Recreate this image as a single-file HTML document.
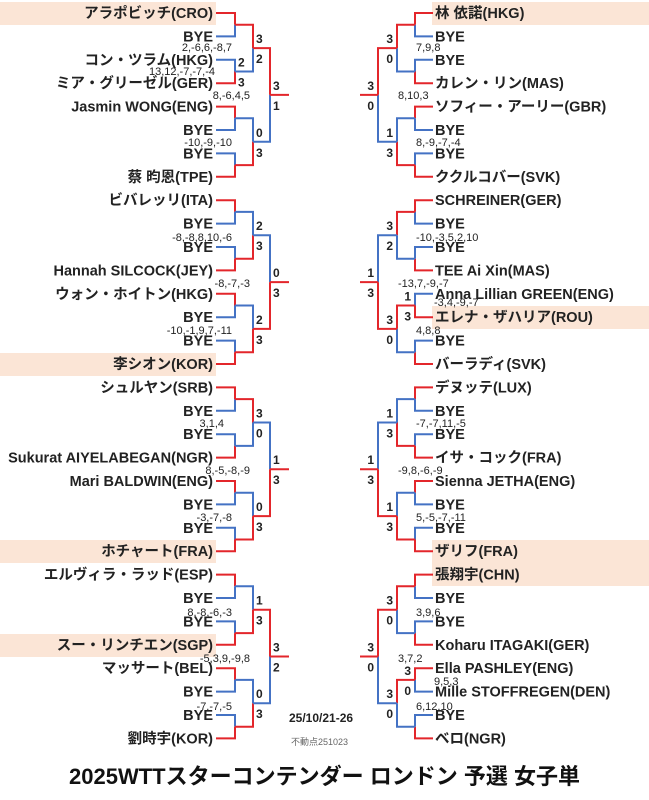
<!DOCTYPE html>
<html><head><meta charset="utf-8"><style>
html,body{margin:0;padding:0;background:#fff;}
svg{display:block;font-family:"Liberation Sans","Noto Sans CJK JP",sans-serif;}
.n{font-size:14.5px;font-weight:bold;fill:#222;}
.s{font-size:12px;font-weight:bold;fill:#222;}
.g{font-size:11px;fill:#222;}
.r{stroke:#e3262b;stroke-width:2;fill:none;}
.b{stroke:#4472c4;stroke-width:2;fill:none;}
</style></head><body>
<svg width="649" height="800" viewBox="0 0 649 800">
<g fill="#fbe5d6">
<rect x="0" y="2" width="216" height="23"/>
<rect x="0" y="353" width="216" height="23"/>
<rect x="0" y="540" width="216" height="23"/>
<rect x="0" y="634" width="216" height="23"/>
<rect x="432" y="2" width="217" height="23"/>
<rect x="432" y="306" width="217" height="23"/>
<rect x="432" y="540" width="217" height="23"/>
<rect x="432" y="563" width="217" height="23"/>
</g>
<path class="r" d="M216,13H235V24.7"/><path class="b" d="M216,36.4H235V24.7"/>
<path class="b" d="M216,59.8H235V71.5"/><path class="r" d="M216,83.2H235V71.5"/>
<path class="r" d="M216,106.6H235V118.3"/><path class="b" d="M216,130H235V118.3"/>
<path class="b" d="M216,153.4H235V165.1"/><path class="r" d="M216,176.8H235V165.1"/>
<path class="r" d="M216,200.2H235V211.9"/><path class="b" d="M216,223.6H235V211.9"/>
<path class="b" d="M216,247H235V258.7"/><path class="r" d="M216,270.4H235V258.7"/>
<path class="r" d="M216,293.8H235V305.5"/><path class="b" d="M216,317.2H235V305.5"/>
<path class="b" d="M216,340.6H235V352.3"/><path class="r" d="M216,364H235V352.3"/>
<path class="r" d="M216,387.4H235V399.1"/><path class="b" d="M216,410.8H235V399.1"/>
<path class="b" d="M216,434.2H235V445.9"/><path class="r" d="M216,457.6H235V445.9"/>
<path class="r" d="M216,481H235V492.7"/><path class="b" d="M216,504.4H235V492.7"/>
<path class="b" d="M216,527.8H235V539.5"/><path class="r" d="M216,551.2H235V539.5"/>
<path class="r" d="M216,574.6H235V586.3"/><path class="b" d="M216,598H235V586.3"/>
<path class="b" d="M216,621.4H235V633.1"/><path class="r" d="M216,644.8H235V633.1"/>
<path class="r" d="M216,668.2H235V679.9"/><path class="b" d="M216,691.6H235V679.9"/>
<path class="b" d="M216,715H235V726.7"/><path class="r" d="M216,738.4H235V726.7"/>
<path class="r" d="M235,24.7H253V48.1"/><path class="b" d="M235,71.5H253V48.1"/>
<path class="b" d="M235,118.3H253V141.7"/><path class="r" d="M235,165.1H253V141.7"/>
<path class="b" d="M235,211.9H253V235.3"/><path class="r" d="M235,258.7H253V235.3"/>
<path class="b" d="M235,305.5H253V328.9"/><path class="r" d="M235,352.3H253V328.9"/>
<path class="r" d="M235,399.1H253V422.5"/><path class="b" d="M235,445.9H253V422.5"/>
<path class="b" d="M235,492.7H253V516.1"/><path class="r" d="M235,539.5H253V516.1"/>
<path class="b" d="M235,586.3H253V609.7"/><path class="r" d="M235,633.1H253V609.7"/>
<path class="b" d="M235,679.9H253V703.3"/><path class="r" d="M235,726.7H253V703.3"/>
<path class="r" d="M253,48.1H270V94.9"/><path class="b" d="M253,141.7H270V94.9"/>
<path class="b" d="M253,235.3H270V282.1"/><path class="r" d="M253,328.9H270V282.1"/>
<path class="b" d="M253,422.5H270V469.3"/><path class="r" d="M253,516.1H270V469.3"/>
<path class="r" d="M253,609.7H270V656.5"/><path class="b" d="M253,703.3H270V656.5"/>
<path class="r" d="M270,94.9H289M270,282.1H289M270,469.3H289M270,656.5H289"/>
<path class="r" d="M433,13H415V24.7"/><path class="b" d="M433,36.4H415V24.7"/>
<path class="b" d="M433,59.8H415V71.5"/><path class="r" d="M433,83.2H415V71.5"/>
<path class="r" d="M433,106.6H415V118.3"/><path class="b" d="M433,130H415V118.3"/>
<path class="b" d="M433,153.4H415V165.1"/><path class="r" d="M433,176.8H415V165.1"/>
<path class="r" d="M433,200.2H415V211.9"/><path class="b" d="M433,223.6H415V211.9"/>
<path class="b" d="M433,247H415V258.7"/><path class="r" d="M433,270.4H415V258.7"/>
<path class="b" d="M433,293.8H415V305.5"/><path class="r" d="M433,317.2H415V305.5"/>
<path class="b" d="M433,340.6H415V352.3"/><path class="r" d="M433,364H415V352.3"/>
<path class="r" d="M433,387.4H415V399.1"/><path class="b" d="M433,410.8H415V399.1"/>
<path class="b" d="M433,434.2H415V445.9"/><path class="r" d="M433,457.6H415V445.9"/>
<path class="r" d="M433,481H415V492.7"/><path class="b" d="M433,504.4H415V492.7"/>
<path class="b" d="M433,527.8H415V539.5"/><path class="r" d="M433,551.2H415V539.5"/>
<path class="r" d="M433,574.6H415V586.3"/><path class="b" d="M433,598H415V586.3"/>
<path class="b" d="M433,621.4H415V633.1"/><path class="r" d="M433,644.8H415V633.1"/>
<path class="r" d="M433,668.2H415V679.9"/><path class="b" d="M433,691.6H415V679.9"/>
<path class="b" d="M433,715H415V726.7"/><path class="r" d="M433,738.4H415V726.7"/>
<path class="r" d="M415,24.7H397V48.1"/><path class="b" d="M415,71.5H397V48.1"/>
<path class="b" d="M415,118.3H397V141.7"/><path class="r" d="M415,165.1H397V141.7"/>
<path class="r" d="M415,211.9H397V235.3"/><path class="b" d="M415,258.7H397V235.3"/>
<path class="r" d="M415,305.5H397V328.9"/><path class="b" d="M415,352.3H397V328.9"/>
<path class="b" d="M415,399.1H397V422.5"/><path class="r" d="M415,445.9H397V422.5"/>
<path class="b" d="M415,492.7H397V516.1"/><path class="r" d="M415,539.5H397V516.1"/>
<path class="r" d="M415,586.3H397V609.7"/><path class="b" d="M415,633.1H397V609.7"/>
<path class="r" d="M415,679.9H397V703.3"/><path class="b" d="M415,726.7H397V703.3"/>
<path class="r" d="M397,48.1H378V94.9"/><path class="b" d="M397,141.7H378V94.9"/>
<path class="b" d="M397,235.3H378V282.1"/><path class="r" d="M397,328.9H378V282.1"/>
<path class="b" d="M397,422.5H378V469.3"/><path class="r" d="M397,516.1H378V469.3"/>
<path class="r" d="M397,609.7H378V656.5"/><path class="b" d="M397,703.3H378V656.5"/>
<path class="r" d="M378,94.9H360M378,282.1H360M378,469.3H360M378,656.5H360"/>
<g class="n" text-anchor="end">
<text x="213" y="18">アラポビッチ(CRO)</text>
<text x="213" y="41.4">BYE</text>
<text x="213" y="64.8">コン・ツラム(HKG)</text>
<text x="213" y="88.2">ミア・グリーゼル(GER)</text>
<text x="213" y="111.6">Jasmin WONG(ENG)</text>
<text x="213" y="135">BYE</text>
<text x="213" y="158.4">BYE</text>
<text x="213" y="181.8">蔡 昀恩(TPE)</text>
<text x="213" y="205.2">ビバレッリ(ITA)</text>
<text x="213" y="228.6">BYE</text>
<text x="213" y="252">BYE</text>
<text x="213" y="275.4">Hannah SILCOCK(JEY)</text>
<text x="213" y="298.8">ウォン・ホイトン(HKG)</text>
<text x="213" y="322.2">BYE</text>
<text x="213" y="345.6">BYE</text>
<text x="213" y="369">李シオン(KOR)</text>
<text x="213" y="392.4">シュルヤン(SRB)</text>
<text x="213" y="415.8">BYE</text>
<text x="213" y="439.2">BYE</text>
<text x="213" y="462.6">Sukurat AIYELABEGAN(NGR)</text>
<text x="213" y="486">Mari BALDWIN(ENG)</text>
<text x="213" y="509.4">BYE</text>
<text x="213" y="532.8">BYE</text>
<text x="213" y="556.2">ホチャート(FRA)</text>
<text x="213" y="579.6">エルヴィラ・ラッド(ESP)</text>
<text x="213" y="603">BYE</text>
<text x="213" y="626.4">BYE</text>
<text x="213" y="649.8">スー・リンチエン(SGP)</text>
<text x="213" y="673.2">マッサート(BEL)</text>
<text x="213" y="696.6">BYE</text>
<text x="213" y="720">BYE</text>
<text x="213" y="743.4">劉時宇(KOR)</text>
</g>
<g class="n">
<text x="435" y="18">林 依諾(HKG)</text>
<text x="435" y="41.4">BYE</text>
<text x="435" y="64.8">BYE</text>
<text x="435" y="88.2">カレン・リン(MAS)</text>
<text x="435" y="111.6">ソフィー・アーリー(GBR)</text>
<text x="435" y="135">BYE</text>
<text x="435" y="158.4">BYE</text>
<text x="435" y="181.8">ククルコバー(SVK)</text>
<text x="435" y="205.2">SCHREINER(GER)</text>
<text x="435" y="228.6">BYE</text>
<text x="435" y="252">BYE</text>
<text x="435" y="275.4">TEE Ai Xin(MAS)</text>
<text x="435" y="298.8">Anna Lillian GREEN(ENG)</text>
<text x="435" y="322.2">エレナ・ザハリア(ROU)</text>
<text x="435" y="345.6">BYE</text>
<text x="435" y="369">バーラディ(SVK)</text>
<text x="435" y="392.4">デヌッテ(LUX)</text>
<text x="435" y="415.8">BYE</text>
<text x="435" y="439.2">BYE</text>
<text x="435" y="462.6">イサ・コック(FRA)</text>
<text x="435" y="486">Sienna JETHA(ENG)</text>
<text x="435" y="509.4">BYE</text>
<text x="435" y="532.8">BYE</text>
<text x="435" y="556.2">ザリフ(FRA)</text>
<text x="435" y="579.6">張翔宇(CHN)</text>
<text x="435" y="603">BYE</text>
<text x="435" y="626.4">BYE</text>
<text x="435" y="649.8">Koharu ITAGAKI(GER)</text>
<text x="435" y="673.2">Ella PASHLEY(ENG)</text>
<text x="435" y="696.6">Mille STOFFREGEN(DEN)</text>
<text x="435" y="720">BYE</text>
<text x="435" y="743.4">ベロ(NGR)</text>
</g>
<g class="s">
<text x="238" y="66.5">2</text><text x="238" y="86.5">3</text>
<text x="256" y="43">3</text><text x="256" y="63">2</text>
<text x="256" y="137">0</text><text x="256" y="157">3</text>
<text x="273" y="90">3</text><text x="273" y="110">1</text>
<text x="256" y="230">2</text><text x="256" y="250">3</text>
<text x="256" y="324">2</text><text x="256" y="344">3</text>
<text x="273" y="277">0</text><text x="273" y="297">3</text>
<text x="256" y="417.5">3</text><text x="256" y="437.5">0</text>
<text x="256" y="511">0</text><text x="256" y="531">3</text>
<text x="273" y="464">1</text><text x="273" y="484">3</text>
<text x="256" y="604.5">1</text><text x="256" y="624.5">3</text>
<text x="256" y="698">0</text><text x="256" y="718">3</text>
<text x="273" y="651.5">3</text><text x="273" y="671.5">2</text>
</g>
<g class="s" text-anchor="end">
<text x="393" y="43">3</text><text x="393" y="63">0</text>
<text x="393" y="137">1</text><text x="393" y="157">3</text>
<text x="374" y="90">3</text><text x="374" y="110">0</text>
<text x="393" y="230">3</text><text x="393" y="250">2</text>
<text x="411" y="300.5">1</text><text x="411" y="320.5">3</text>
<text x="393" y="324">3</text><text x="393" y="344">0</text>
<text x="374" y="277">1</text><text x="374" y="297">3</text>
<text x="393" y="417.5">1</text><text x="393" y="437.5">3</text>
<text x="393" y="511">1</text><text x="393" y="531">3</text>
<text x="374" y="464">1</text><text x="374" y="484">3</text>
<text x="393" y="604.5">3</text><text x="393" y="624.5">0</text>
<text x="411" y="675">3</text><text x="411" y="695">0</text>
<text x="393" y="698">3</text><text x="393" y="718">0</text>
<text x="374" y="651.5">3</text><text x="374" y="671.5">0</text>
</g>
<g class="g" text-anchor="end">
<text x="232" y="51">2,-6,6,-8,7</text>
<text x="215" y="75">13,12,-7,-7,-4</text>
<text x="250" y="99">8,-6,4,5</text>
<text x="232" y="146">-10,-9,-10</text>
<text x="232" y="241">-8,-8,8,10,-6</text>
<text x="250" y="287">-8,-7,-3</text>
<text x="232" y="334">-10,-1,9,7,-11</text>
<text x="224" y="427">3,1,4</text>
<text x="250" y="474">8,-5,-8,-9</text>
<text x="232" y="521">-3,-7,-8</text>
<text x="232" y="616">8,-8,-6,-3</text>
<text x="250" y="662">-5,3,9,-9,8</text>
<text x="232" y="710">-7,-7,-5</text>
</g>
<g class="g">
<text x="416" y="51">7,9,8</text>
<text x="398" y="99">8,10,3</text>
<text x="416" y="146">8,-9,-7,-4</text>
<text x="416" y="241">-10,-3,5,2,10</text>
<text x="398" y="287">-13,7,-9,-7</text>
<text x="434" y="306">-3,4,-9,-7</text>
<text x="416" y="334">4,8,8</text>
<text x="416" y="427">-7,-7,11,-5</text>
<text x="398" y="474">-9,8,-6,-9</text>
<text x="416" y="521">5,-5,-7,-11</text>
<text x="416" y="616">3,9,6</text>
<text x="398" y="662">3,7,2</text>
<text x="434" y="685">9,5,3</text>
<text x="416" y="710">6,12,10</text>
</g>
<text x="289" y="722" style="font-size:12px;font-weight:bold" fill="#222">25/10/21-26</text>
<text x="291" y="745" style="font-size:9px" fill="#666">不動点251023</text>
<text x="324.5" y="784" text-anchor="middle" style="font-size:22px;font-weight:bold" fill="#111">2025WTTスターコンテンダー ロンドン 予選 女子単</text>
</svg>
</body></html>
